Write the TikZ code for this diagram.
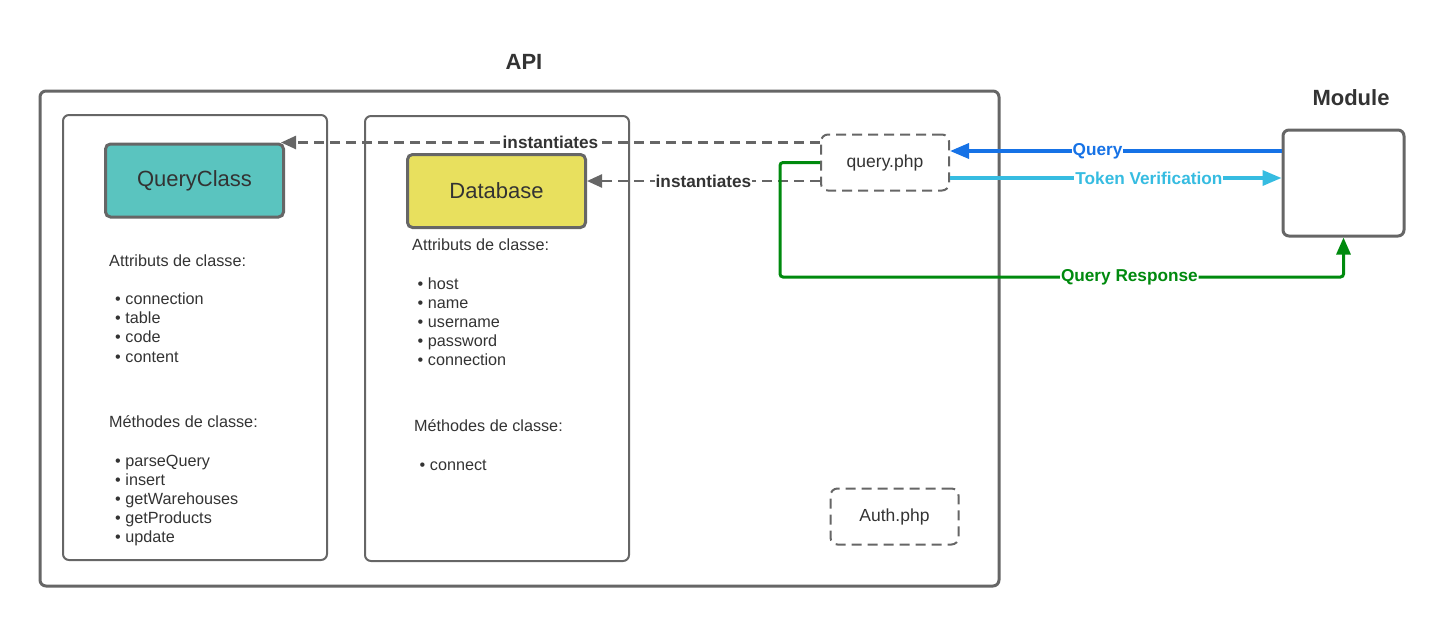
\documentclass[tikz,border=0pt]{standalone}
\usepackage{fontspec}
\setmainfont{Liberation Sans}
\usepackage{xcolor}
\usepackage{tikz}
\usetikzlibrary{arrows.meta}
\definecolor{edge}{HTML}{666666}
\definecolor{ink}{HTML}{333333}
\definecolor{qteal}{HTML}{5AC4BF}
\definecolor{dbyellow}{HTML}{E8E05E}
\definecolor{qblue}{HTML}{1672E6}
\definecolor{tcyan}{HTML}{36BCE1}
\definecolor{rgreen}{HTML}{008A0E}
\tikzset{
  frame/.style={draw=edge, line width=3pt, rounded corners=6pt},
  panel/.style={draw=edge, line width=2pt, rounded corners=6pt},
  cls/.style={draw=edge, line width=3pt, rounded corners=5pt, minimum width=178pt, minimum height=73pt, text=ink, font=\fontsize{22}{26}\selectfont},
  file/.style={draw=edge, line width=2pt, dash pattern=on 10pt off 6pt, rounded corners=7pt, minimum width=128pt, minimum height=56pt, text=ink, font=\fontsize{17.5}{21}\selectfont},
  ttl/.style={text=ink, font=\bfseries\fontsize{22}{26}\selectfont},
  item/.style={anchor=base west, inner sep=0pt, text=ink, font=\fontsize{16.2}{19}\selectfont},
  inst/.style={draw=edge, line width=2.5pt, dash pattern=on 10pt off 6pt, -{Triangle[length=15pt,width=13pt]}},
  query/.style={draw=qblue, line width=3.5pt, -{Triangle[length=19pt,width=15pt]}},
  token/.style={draw=tcyan, line width=3.5pt, -{Triangle[length=19pt,width=15pt]}},
  resp/.style={draw=rgreen, line width=3pt, rounded corners=3pt, -{Triangle[length=17pt,width=14pt]}},
  lbl/.style={fill=white, inner sep=1pt, font=\bfseries\fontsize{17.2}{20}\selectfont},
}
\begin{document}
\begin{tikzpicture}[x=1pt, y=-1pt]
  \useasboundingbox (0,0) rectangle (1446,627);
  \draw[frame] (40,91) rectangle (999,586);
  \node[ttl] (api) at (524,62) {API};
  \draw[panel] (63,115) rectangle (327,560);
  \draw[panel] (365,116) rectangle (629,561);

  \node[cls, fill=qteal] (qclass) at (194.5,180.5) {QueryClass};
  \node[cls, fill=dbyellow] (db) at (496.5,191) {Database};

  \node[item] (qattr) at (109,266.5) {Attributs de classe:};
  \foreach \t [count=\i] in {connection,table,code,content}
    \node[item] (qa\i) at (115,{304.5+19.2*(\i-1)}) {•\hspace{0.28em}\t};
  \node[item] (qmeth) at (109,427.5) {Méthodes de classe:};
  \foreach \t [count=\i] in {parseQuery,insert,getWarehouses,getProducts,update}
    \node[item] (qm\i) at (115,{466+19.2*(\i-1)}) {•\hspace{0.28em}\t};

  \node[item] (dattr) at (412,250.5) {Attributs de classe:};
  \foreach \t [count=\i] in {host,name,username,password,connection}
    \node[item] (da\i) at (417.5,{289+19.2*(\i-1)}) {•\hspace{0.28em}\t};
  \node[item] (dmeth) at (414,431.5) {Méthodes de classe:};
  \node[item] (dm1) at (419.5,470) {•\hspace{0.28em}connect};

  \node[file] (qphp) at (885,162.5) {query.php};
  \node[file] (auth) at (894.5,516.5) {Auth.php};

  \node[ttl] (modt) at (1351,98) {Module};
  \node[draw=edge, line width=3pt, rounded corners=6pt, minimum width=121pt, minimum height=106pt] (mod) at (1343.5,183) {};

  \draw[inst] (qclass.north east -| qphp.west) -- node[lbl, text=ink, pos=0.5] {instantiates} ([xshift=-4pt]qclass.north east);
  \coordinate (dout) at ([yshift=-18.5pt]qphp.west);
  \draw[inst] (dout) -- node[lbl, text=ink, pos=0.5] {instantiates} (db.east |- dout);

  \coordinate (qin) at ([yshift=11.5pt]qphp.east);
  \draw[query] (mod.west |- qin) -- node[lbl, text=qblue, pos=0.555] {Query} (qin);
  \coordinate (tout) at ([yshift=-15.5pt]qphp.east);
  \draw[token] (tout) -- node[lbl, text=tcyan, pos=0.6] {Token Verification} (mod.west |- tout);

  \coordinate (bend) at (780,277);
  \draw[resp] (qphp.west) -| (bend) -| node[lbl, text=rgreen, pos=0.31] {Query Response} (mod.south);
\end{tikzpicture}
\end{document}
